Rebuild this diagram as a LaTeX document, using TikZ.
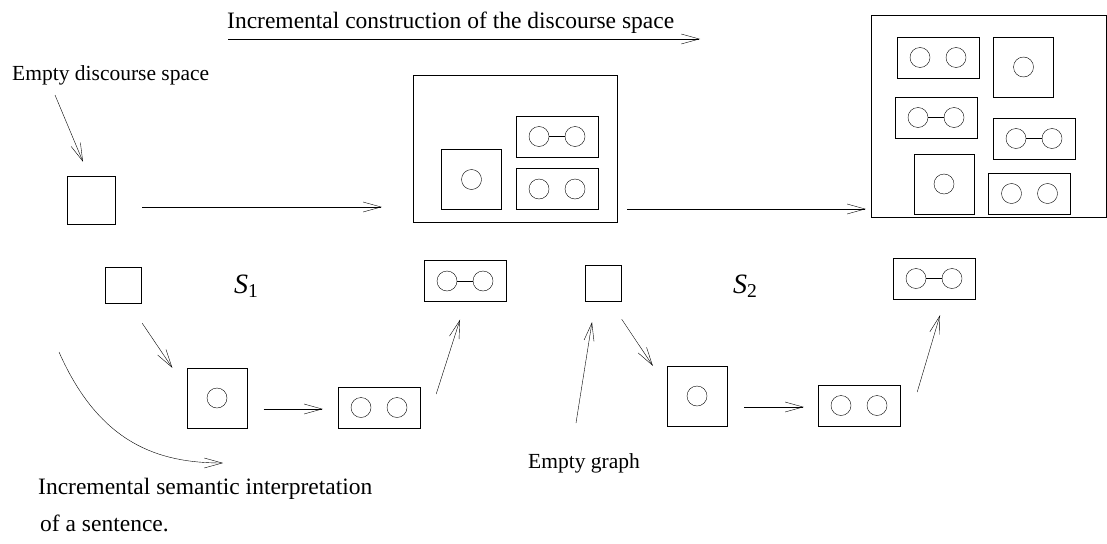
\documentclass[tikz,border=0pt]{standalone}
\usepackage{fontspec}
\setmainfont{Liberation Serif}
\usetikzlibrary{arrows.meta, calc}
\tikzset{
x=1pt, y=-1pt, % one unit is one pixel, y runs downwards
line width=0.9pt,
>={Straight Barb[length=18pt, width=10pt]}, % open arrow heads
dspace/.style={draw, rectangle, inner sep=0pt}, % a discourse space
pair/.style={draw, rectangle, inner sep=0pt, minimum width=82pt, minimum height=41pt}, % graph with two vertices
single/.style={draw, rectangle, inner sep=0pt, minimum width=60pt, minimum height=60pt}, % graph with one vertex
empty/.style={draw, rectangle, inner sep=0pt, minimum size=36pt}, % empty graph
vertex/.style={draw, circle, inner sep=0pt, minimum size=20pt},
txt/.style={anchor=base west, inner sep=0pt, font=\fontsize{23.5}{28}\selectfont},
small/.style={txt, font=\fontsize{21.5}{26}\selectfont},
}

\begin{document}
\begin{tikzpicture}
        \useasboundingbox (0,0) rectangle (1107,543);

        % texts
        \node[txt] (lbl0) at (227,29) {Incremental construction of the discourse space};
        \node[small] (lbl1) at (12,81) {Empty discourse space};
        \node[txt, font=\fontsize{28}{32}\selectfont] (lbl2) at (234,293) {\textit{S}\textsubscript{1}};
        \node[txt, font=\fontsize{28}{32}\selectfont] (lbl3) at (733,293) {\textit{S}\textsubscript{2}};
        \node[txt] (lbl4) at (38,494) {Incremental semantic interpretation};
        \node[txt] (lbl5) at (40,531) {of a sentence.};
        \node[small] (lbl6) at (528,468) {Empty graph};

        % discourse spaces
        \node[empty, minimum size=48pt] (e1) at (91,200) {};
        \node[dspace, minimum width=204pt, minimum height=147pt] (d1) at (515,148.5) {};
        \node[single] (d1a) at (471.5,179.5) {};
        \node[vertex] (d1a1) at (d1a) {};
        \node[pair] (d1b) at (557,136.5) {};
        \node[vertex] (d1b1) at ([xshift=-18pt]d1b.center) {};
        \node[vertex] (d1b2) at ([xshift=18pt]d1b.center) {};
        \node[pair] (d1c) at (557,189) {};
        \node[vertex] (d1c1) at ([xshift=-18pt]d1c.center) {};
        \node[vertex] (d1c2) at ([xshift=18pt]d1c.center) {};

        \node[dspace, minimum width=235pt, minimum height=202pt] (d2) at (988.5,116) {};
        \node[pair] (d2a) at (938,57.5) {};
        \node[vertex] (d2a1) at ([xshift=-18pt]d2a.center) {};
        \node[vertex] (d2a2) at ([xshift=18pt]d2a.center) {};
        \node[single] (d2b) at (1023.5,67) {};
        \node[vertex] (d2b1) at (d2b) {};
        \node[pair] (d2c) at (936,117.5) {};
        \node[vertex] (d2c1) at ([xshift=-18pt]d2c.center) {};
        \node[vertex] (d2c2) at ([xshift=18pt]d2c.center) {};
        \node[pair] (d2d) at (1034,138.5) {};
        \node[vertex] (d2d1) at ([xshift=-18pt]d2d.center) {};
        \node[vertex] (d2d2) at ([xshift=18pt]d2d.center) {};
        \node[single] (d2e) at (944,184) {};
        \node[vertex] (d2e1) at (d2e) {};
        \node[pair] (d2f) at (1029.5,193.5) {};
        \node[vertex] (d2f1) at ([xshift=-18pt]d2f.center) {};
        \node[vertex] (d2f2) at ([xshift=18pt]d2f.center) {};

        % sentence graphs
        \node[empty] (g0) at (123.5,285) {};
        \node[single] (g1) at (217,398) {};
        \node[vertex] (g11) at (g1) {};
        \node[pair] (g2) at (379,407.5) {};
        \node[vertex] (g21) at ([xshift=-18pt]g2.center) {};
        \node[vertex] (g22) at ([xshift=18pt]g2.center) {};
        \node[pair] (g3) at (465,281) {};
        \node[vertex] (g31) at ([xshift=-18pt]g3.center) {};
        \node[vertex] (g32) at ([xshift=18pt]g3.center) {};

        \node[empty] (h0) at (603.5,283) {};
        \node[single] (h1) at (697,396) {};
        \node[vertex] (h11) at (h1) {};
        \node[pair] (h2) at (859,405.5) {};
        \node[vertex] (h21) at ([xshift=-18pt]h2.center) {};
        \node[vertex] (h22) at ([xshift=18pt]h2.center) {};
        \node[pair] (h3) at (934,278.5) {};
        \node[vertex] (h31) at ([xshift=-18pt]h3.center) {};
        \node[vertex] (h32) at ([xshift=18pt]h3.center) {};

        % edges inside graphs
        \draw (d1b1) -- (d1b2);
        \draw (d2c1) -- (d2c2);
        \draw (d2d1) -- (d2d2);
        \draw (g31) -- (g32);
        \draw (h31) -- (h32);

        % arrows
        \draw[->] ($(lbl0.base west)+(1,10)$) -- ($(lbl0.base west)+(473,10)$);
        \draw[->] ($(lbl1.base west)+(43,14)$) -- ($(e1.north)+(-8,-14)$);
        \draw[->] ($(e1.east)+(27,7)$) -- ($(d1.west)+(-31,58.5)$);
        \draw[->] ($(d1.east)+(10,60.5)$) -- ($(d2.west)+(-5,93)$);
        \draw[->] ($(g0.south east)+(0.5,20)$) -- ($(g1.north west)+(-14.5,0)$);
        \draw[->] ($(g1.east)+(16.5,11)$) -- ($(g2.west)+(-15,1.5)$);
        \draw[->] ($(g2.east)+(16,-13.5)$) -- ($(g3.south)+(-5,18)$);
        \coordinate (c1) at (59,352);
        \draw[->] (c1) .. controls (100,445) and (160,463) .. ($(lbl4.base west)+(185,-31)$);
        \draw[->] ($(lbl6.base west)+(48,-45)$) -- ($(h0.south)+(-11.5,21)$);
        \draw[->] ($(h0.south east)+(0,18)$) -- ($(h1.north west)+(-14,0)$);
        \draw[->] ($(h1.east)+(17,11)$) -- ($(h2.west)+(-14,1.5)$);
        \draw[->] ($(h2.east)+(17,-13.5)$) -- ($(h3.south)+(6,16)$);
    \end{tikzpicture}
\end{document}
